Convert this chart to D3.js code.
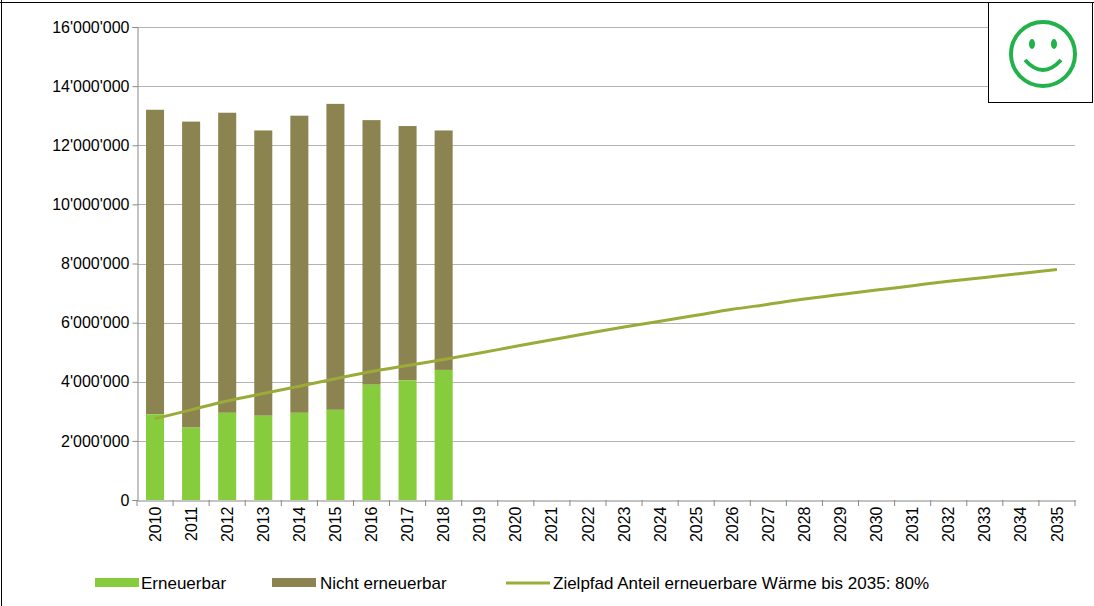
<!DOCTYPE html>
<html><head><meta charset="utf-8">
<script src="https://cdn.jsdelivr.net/npm/d3@7"></script>
<style>body{margin:0;background:#fff}text{font-family:"Liberation Sans",Arial,sans-serif}</style>
</head><body><svg id="c" width="1094" height="606"></svg>
<script>
const years = d3.range(2010, 2036).map(String)
const barYears = ['2010','2011','2012','2013','2014','2015','2016','2017','2018']
const erneuerbar = [2.9, 2.45, 2.95, 2.85, 2.95, 3.05, 3.9, 4.05, 4.4].map(v => v * 1e6)
const total = [13.2, 12.8, 13.1, 12.5, 13.0, 13.4, 12.85, 12.65, 12.5].map(v => v * 1e6)
const zielpfad = [2.75,3.05,3.35,3.6,3.85,4.1,4.35,4.55,4.75,4.97,5.2,5.42,5.64,5.85,6.05,6.25,6.45,6.62,6.8,6.95,7.1,7.25,7.4,7.53,7.66,7.8].map(v => v * 1e6)
const yTicks = d3.range(0, 16000001, 2000000)

const svg = d3.select('#c')
const x = d3.scaleBand().domain(years).range([137, 1075]).paddingInner(0.5).paddingOuter(0.25)
const y = d3.scaleLinear().domain([0, 16e6]).range([500, 27])
const fmt = v => d3.format(',')(v).replace(/,/g, "'")

// frame
svg.append('line').attr('x1', 1.5).attr('x2', 1.5).attr('y1', 0).attr('y2', 606).attr('stroke', '#000')
svg.append('line').attr('x1', 0).attr('x2', 1094).attr('y1', 2.5).attr('y2', 2.5).attr('stroke', '#000')

// grid
svg.append('g').selectAll('line').data(yTicks.slice(1)).join('line')
  .attr('x1', 137).attr('x2', 1075).attr('y1', d => Math.round(y(d)) + 0.5).attr('y2', d => Math.round(y(d)) + 0.5)
  .attr('stroke', '#b3b3b3')

const yAxis = svg.append('g').attr('transform', 'translate(137.5,0)')
  .call(d3.axisLeft(y).tickValues(yTicks).tickFormat(fmt).tickSize(5))
yAxis.selectAll('text').attr('font-size', 16).attr('fill', '#000')
yAxis.selectAll('line,path').attr('stroke', '#888')

const xAxis = svg.append('g').attr('transform', 'translate(0,500.5)')
  .call(d3.axisBottom(x).tickSize(0))
xAxis.selectAll('text').attr('font-size', 16).attr('fill', '#000')
  .attr('transform', 'rotate(-90)').attr('text-anchor', 'end').attr('dx', -6).attr('dy', '0.35em')
  .attr('x', 0).attr('y', 0)
xAxis.select('path').attr('stroke', '#888')
svg.append('g').selectAll('line').data(years.concat(['end'])).join('line')
  .attr('x1', (d, i) => 137 + i * x.step()).attr('x2', (d, i) => 137 + i * x.step())
  .attr('y1', 500).attr('y2', 506).attr('stroke', '#888')

// bars
svg.append('g').selectAll('rect').data(barYears).join('rect')
  .attr('x', d => x(d)).attr('width', x.bandwidth())
  .attr('y', (d, i) => y(total[i])).attr('height', (d, i) => y(erneuerbar[i]) - y(total[i]))
  .attr('fill', '#8c8450')
svg.append('g').selectAll('rect').data(barYears).join('rect')
  .attr('x', d => x(d)).attr('width', x.bandwidth())
  .attr('y', (d, i) => y(erneuerbar[i])).attr('height', (d, i) => y(0) - y(erneuerbar[i]))
  .attr('fill', '#86cc3c')

// line
svg.append('path').datum(zielpfad)
  .attr('d', d3.line().x((d, i) => x(years[i]) + x.bandwidth() / 2).y(d => y(d)).curve(d3.curveMonotoneX))
  .attr('fill', 'none').attr('stroke', '#9aab3a').attr('stroke-width', 3)

// legend
const lg = svg.append('g').attr('font-size', 17)
lg.append('rect').attr('x', 95).attr('y', 578).attr('width', 44).attr('height', 9).attr('fill', '#86cc3c')
lg.append('text').attr('x', 141).attr('y', 589).text('Erneuerbar')
lg.append('rect').attr('x', 272).attr('y', 578).attr('width', 44).attr('height', 9).attr('fill', '#8c8450')
lg.append('text').attr('x', 320).attr('y', 589).text('Nicht erneuerbar')
lg.append('line').attr('x1', 506).attr('x2', 550).attr('y1', 583).attr('y2', 583).attr('stroke', '#9aab3a').attr('stroke-width', 3)
lg.append('text').attr('x', 553).attr('y', 589).text('Zielpfad Anteil erneuerbare Wärme bis 2035: 80%')

// smiley box
svg.append('rect').attr('x', 988.5).attr('y', 2.5).attr('width', 104).attr('height', 100).attr('fill', '#fff').attr('stroke', '#000')
const s = svg.append('g').attr('transform', 'translate(1043,54)').attr('fill', 'none').attr('stroke', '#22b24c').attr('stroke-width', 4)
s.append('circle').attr('r', 32)
s.append('ellipse').attr('cx', -11).attr('cy', -10).attr('rx', 3).attr('ry', 5).attr('fill', '#22b24c').attr('stroke', 'none')
s.append('ellipse').attr('cx', 11).attr('cy', -10).attr('rx', 3).attr('ry', 5).attr('fill', '#22b24c').attr('stroke', 'none')
s.append('path').attr('d', 'M-18,6 Q0,26 18,6')
</script></body></html>
